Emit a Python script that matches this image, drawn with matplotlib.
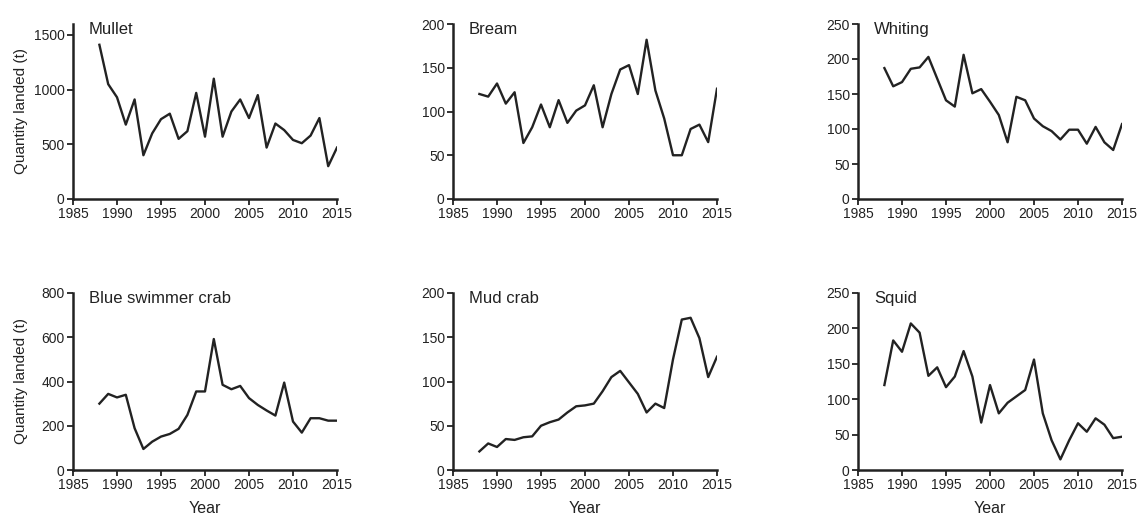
import matplotlib
matplotlib.use('Agg')
import matplotlib.pyplot as plt

plt.rcParams['font.family'] = ['Liberation Sans', 'DejaVu Sans']

years = list(range(1988, 2016))

mullet = [1410, 1050, 930, 680, 910, 400, 600, 730, 780, 550, 620, 970, 570, 1100,
          570, 800, 910, 740, 950, 470, 690, 630, 540, 510, 580, 740, 300, 470]
bream = [120, 117, 132, 109, 122, 64, 82, 108, 82, 113, 87, 101, 107, 130,
         82, 120, 148, 153, 120, 182, 124, 92, 50, 50, 80, 85, 65, 126]
whiting = [187, 161, 167, 186, 188, 203, 172, 141, 132, 206, 151, 157, 139, 120,
           81, 146, 141, 115, 104, 97, 85, 99, 99, 79, 103, 81, 70, 107]
blue_crab = [300, 344, 328, 340, 189, 95, 128, 151, 163, 186, 249, 355, 355, 592,
             385, 365, 380, 325, 294, 269, 246, 395, 219, 169, 234, 234, 223, 223]
mud_crab = [21, 30, 26, 35, 34, 37, 38, 50, 54, 57, 65, 72, 73, 75,
            89, 105, 112, 99, 86, 65, 75, 70, 125, 170, 172, 149, 105, 128]
squid = [120, 183, 167, 207, 194, 133, 145, 117, 132, 168, 132, 67, 120, 80,
         95, 104, 113, 156, 80, 42, 15, 42, 66, 54, 73, 64, 45, 47]

names = ['Mullet', 'Bream', 'Whiting', 'Blue swimmer crab', 'Mud crab', 'Squid']
series = [mullet, bream, whiting, blue_crab, mud_crab, squid]
ymax = [1600, 200, 250, 800, 200, 250]
ystep = [500, 50, 50, 200, 50, 50]

W, H = 1142, 518
fig = plt.figure(figsize=(W / 100, H / 100), dpi=100)

lefts = [73, 453, 858]
rows = [(24, 199), (293, 470)]
ink = '#222222'

for i in range(6):
    r, c = divmod(i, 3)
    top, bot = rows[r]
    ax = fig.add_axes([lefts[c] / W, 1 - bot / H, 264 / W, (bot - top) / H])
    ax.plot(years, series[i], color=ink, lw=1.7)
    ax.set_xlim(1985, 2015)
    ax.set_ylim(0, ymax[i])
    ax.set_xticks(range(1985, 2016, 5))
    ax.set_yticks(range(0, ymax[i] + 1, ystep[i]))
    for s in ['top', 'right']:
        ax.spines[s].set_visible(False)
    for s in ['left', 'bottom']:
        ax.spines[s].set_linewidth(1.8)
        ax.spines[s].set_color(ink)
    ax.tick_params(length=4, width=1.3, color=ink, labelsize=10,
                   labelcolor=ink, pad=2)
    ax.text(0.06, 0.97, names[i], transform=ax.transAxes, fontsize=12,
            color=ink, va='center', ha='left')
    if c == 0:
        ax.set_ylabel('Quantity landed (t)', fontsize=11, color=ink)
        ax.yaxis.set_label_coords(-0.17, 0.5)
    if r == 1:
        ax.set_xlabel('Year', fontsize=11.5, color=ink, labelpad=6)

plt.savefig('out.png', dpi=100)
